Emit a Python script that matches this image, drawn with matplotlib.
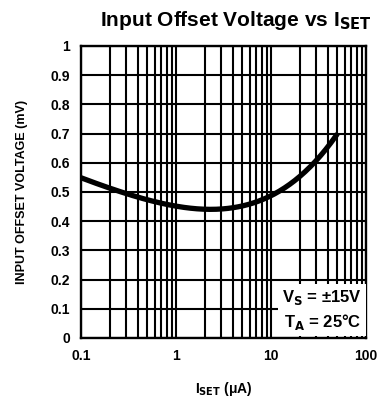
import numpy as np
import matplotlib
matplotlib.use("Agg")
import matplotlib.pyplot as plt
from matplotlib.ticker import FixedLocator, NullFormatter

plt.rcParams['font.family'] = ['Liberation Sans', 'DejaVu Sans']
plt.rcParams['font.weight'] = 'bold'
plt.rcParams['mathtext.fontset'] = 'dejavusans'

# offset voltage vs set current
i_set = [0.1, 0.2, 0.5, 1.0, 2.0, 2.5, 5.0, 10.0, 20.0, 30.0, 50.0]
v_os = [0.55, 0.51, 0.475, 0.455, 0.44, 0.438, 0.45, 0.49, 0.555, 0.605, 0.70]

x_ticks = [0.1, 1, 10, 100]
x_tick_labels = ['0.1', '1', '10', '100']
y_ticks = [0, 0.1, 0.2, 0.3, 0.4, 0.5, 0.6, 0.7, 0.8, 0.9, 1]
y_tick_labels = ['0', '0.1', '0.2', '0.3', '0.4', '0.5', '0.6', '0.7', '0.8', '0.9', '1']

# smooth curve through the read points in log space
lx = np.log10(i_set)
xs = np.linspace(lx[0], lx[-1], 200)
coef = np.polyfit(lx, v_os, 4)
ys = np.polyval(coef, xs)

fig = plt.figure(figsize=(3.79, 4.04), dpi=100)
ax = fig.add_axes([0.2137, 0.1634, 0.752, 0.7228])

ax.set_xscale('log')
ax.set_xlim(0.1, 100)
ax.set_ylim(0, 1)

ax.set_xticks(x_ticks)
ax.set_xticklabels(x_tick_labels)
ax.set_yticks(y_ticks)
ax.set_yticklabels(y_tick_labels)
minors = [m * d for d in [0.1, 1, 10] for m in range(2, 10)]
ax.xaxis.set_minor_locator(FixedLocator(minors))
ax.xaxis.set_minor_formatter(NullFormatter())
ax.tick_params(which='both', length=0, labelsize=10, pad=8)
for lbl in ax.get_xticklabels() + ax.get_yticklabels():
    lbl.set_fontweight('bold')

ax.grid(True, which='major', color='black', lw=1.5)
ax.grid(True, which='minor', axis='x', color='black', lw=1.5)
ax.set_axisbelow(True)
for s in ax.spines.values():
    s.set_linewidth(1.7)

ax.plot(10 ** xs, ys, color='black', lw=3.8, solid_capstyle='butt', zorder=3)

ax.text(0.985, 0.022, 'V$_{\\mathbf{S}}$ = \u00b115V\nT$_{\\mathbf{A}}$ = 25\u00b0C',
        transform=ax.transAxes, ha='right', va='bottom', fontsize=12,
        fontweight='bold', linespacing=1.3, zorder=4,
        bbox=dict(facecolor='white', edgecolor='none', pad=3))

fig.text(0.622, 0.95, 'Input Offset Voltage vs I$_{\\mathbf{SET}}$', ha='center',
         va='center', fontsize=15, fontweight='bold')
ax.set_xlabel('I$_{\\mathbf{SET}}$ (\u03bcA)', fontsize=10, fontweight='bold', labelpad=12)
ax.set_ylabel('INPUT OFFSET VOLTAGE (mV)', fontsize=9, fontweight='bold', labelpad=16)

fig.savefig('out.png', dpi=100)
